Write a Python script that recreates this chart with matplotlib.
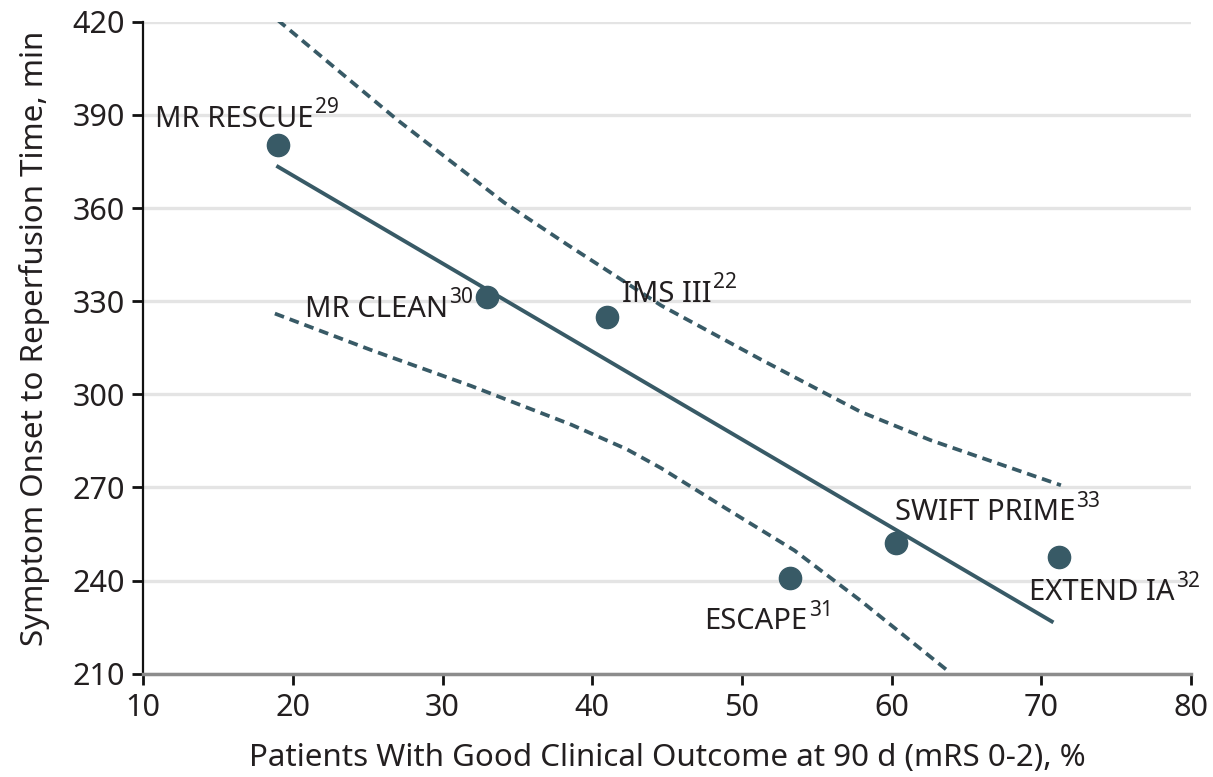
import matplotlib
matplotlib.use('Agg')
import matplotlib.pyplot as plt

plt.rcParams['font.family'] = ['Noto Sans', 'DejaVu Sans']

# trials: outcome (%) vs onset-to-reperfusion time (min)
trials = ['MR RESCUE', 'MR CLEAN', 'IMS III', 'ESCAPE', 'SWIFT PRIME', 'EXTEND IA']
refs = ['29', '30', '22', '31', '33', '32']
outcome = [19, 33, 41, 53.2, 60.3, 71.2]
onset_time = [380.4, 331.2, 324.8, 240.7, 252.0, 247.7]

# label anchors (left, baseline)
label_x = [10.8, 20.8, 42.0, 47.5, 60.2, 69.2]
label_y = [386.2, 324.9, 329.8, 224.3, 259.4, 233.6]

# fitted line end points
fit_x = [18.9, 70.8]
fit_y = [373.6, 226.5]

# confidence band
upper_x = [19.0, 27.0, 34.1, 38.3, 44.6, 51.3, 57.9, 62.6, 71.3]
upper_y = [420.5, 388.3, 361.8, 348.3, 328.6, 311.1, 294.4, 285.2, 270.7]
lower_x = [18.8, 25.2, 31.9, 38.6, 42.3, 44.6, 49.0, 53.5, 57.9, 63.7]
lower_y = [326.0, 314.3, 302.7, 290.2, 282.3, 276.2, 263.0, 249.7, 233.6, 211.1]

col = '#385a66'
txt = '#231f20'

fig = plt.figure(figsize=(12.13, 7.77), dpi=100)
ax = fig.add_axes([0.118, 0.133, 0.864, 0.839])

ax.plot(fit_x, fit_y, color=col, lw=2.8, solid_capstyle='butt')
ax.plot(upper_x, upper_y, color=col, lw=2.7, dashes=(2.6, 1.6))
ax.plot(lower_x, lower_y, color=col, lw=2.7, dashes=(2.6, 1.6))
ax.plot(outcome, onset_time, 'o', color=col, ms=16, zorder=5)

for name, ref, lx, ly in zip(trials, refs, label_x, label_y):
    t = ax.text(lx, ly, name, fontsize=21, color=txt,
                ha='left', va='baseline', zorder=6)
    # reference number as a superscript right after the name
    ax.annotate(ref, xy=(1, ly), xycoords=(t, 'data'), xytext=(1, 9.9),
                textcoords='offset points', fontsize=15, color=txt,
                ha='left', va='baseline', zorder=6)

ax.set_xlim(10, 80)
ax.set_ylim(210, 420)
ax.set_xticks(range(10, 81, 10))
ax.set_yticks(range(210, 421, 30))
ax.yaxis.grid(True, color='#e4e4e4', lw=2.4)
ax.set_axisbelow(True)

for s in ['top', 'right']:
    ax.spines[s].set_visible(False)
ax.spines['left'].set_color('#111111')
ax.spines['left'].set_linewidth(1.6)
ax.spines['bottom'].set_color('#8c8c8c')
ax.spines['bottom'].set_linewidth(2.5)
ax.tick_params(axis='both', labelsize=22, colors=txt, width=2, length=8)
ax.tick_params(axis='x', pad=6, color='#111111')
ax.tick_params(axis='y', pad=5, color='#111111')

ax.set_xlabel('Patients With Good Clinical Outcome at 90 d (mRS 0-2), %', fontsize=22.5,
              color=txt)
ax.set_ylabel('Symptom Onset to Reperfusion Time, min', fontsize=22.5, color=txt)
ax.xaxis.set_label_coords(0.5, -0.106)
ax.yaxis.set_label_coords(-0.089, 0.515)

fig.savefig('out.png', dpi=100)
